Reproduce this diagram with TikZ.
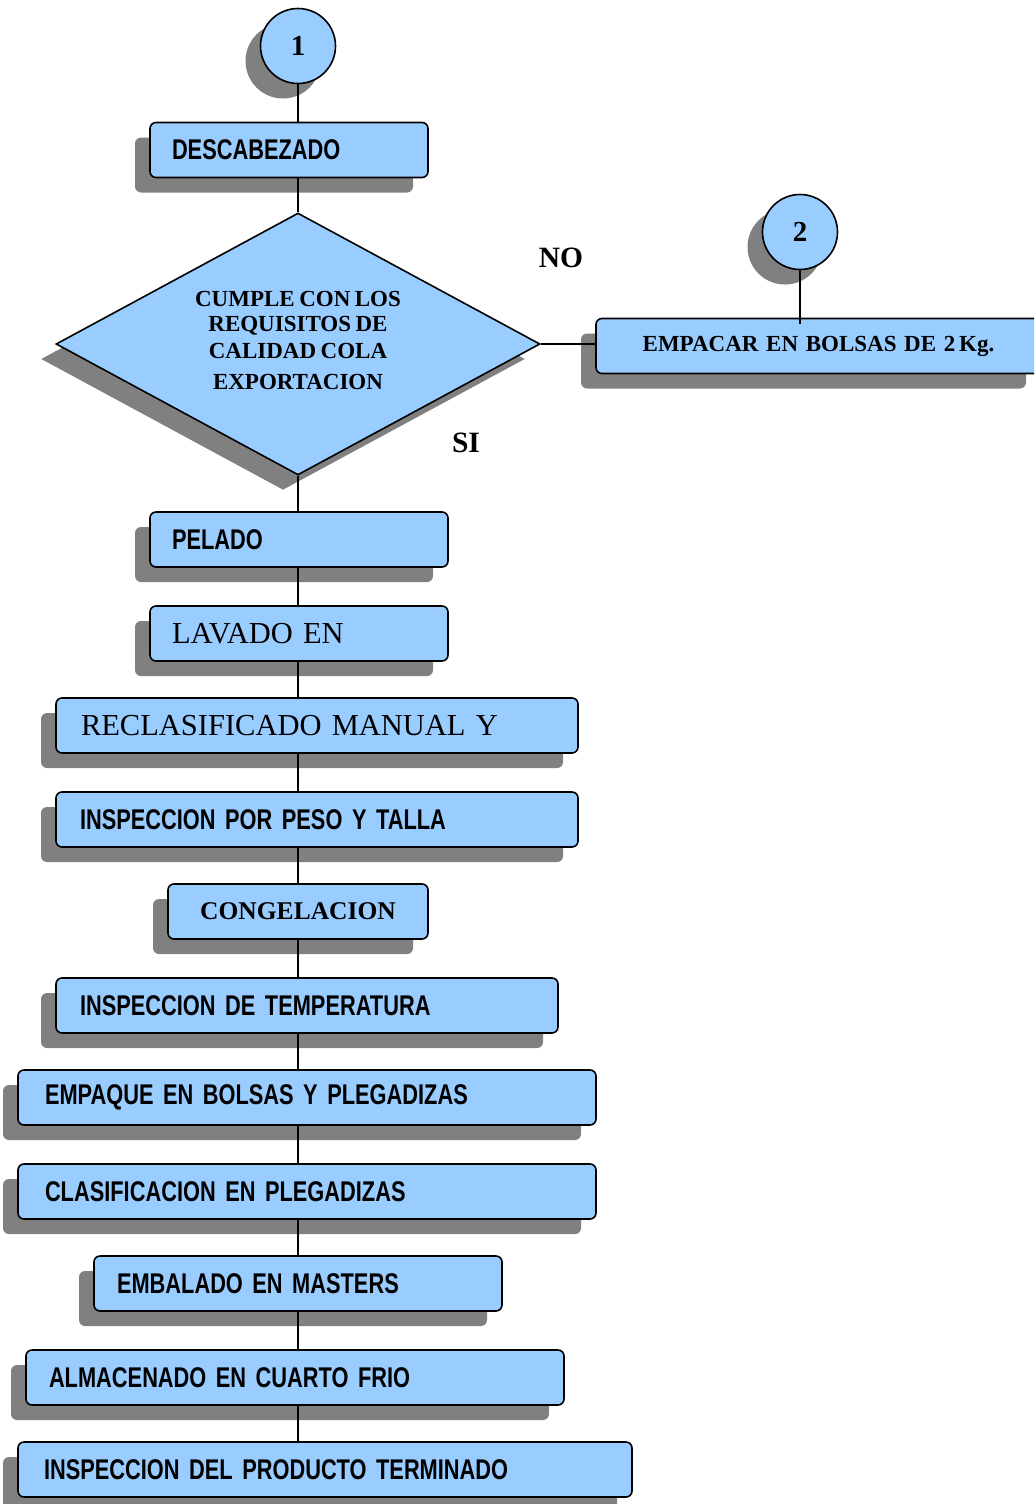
\documentclass[tikz,border=0pt]{standalone}
\usepackage{fontspec}
\setmainfont{Liberation Serif}
\newfontfamily\narrowsans[FakeStretch=0.765]{Liberation Sans}
\usetikzlibrary{shapes.geometric,shadows,calc}
\definecolor{boxblue}{RGB}{153,204,255}
\definecolor{shade}{RGB}{128,128,128}
% narrower interword spaces for the box labels
\newcommand\sansspacing{\spaceskip=4.2pt plus 1pt\relax}
\newcommand\serifspacing{\spaceskip=4.5pt plus 1pt\relax}
\tikzset{
  shaded/.style={general shadow={shadow xshift=-15pt,shadow yshift=-15pt,fill=shade}},
  basebox/.style={shaded, draw=black, line width=1.6pt, fill=boxblue,
    rounded corners=6pt, minimum height=55pt, inner ysep=0pt},
  proc/.style={basebox, align=left,
    font=\narrowsans\bfseries\fontsize{28.5}{32}\selectfont\sansspacing},
  procserif/.style={basebox, align=left, font=\fontsize{30.5}{34}\selectfont},
  procbold/.style={basebox, align=center, inner xsep=10pt},
  decision/.style={shaded, diamond, draw=black, line width=1.6pt, fill=boxblue,
    shape aspect=1.85, minimum width=484pt, minimum height=262pt, inner sep=0pt,
    align=center, font=\bfseries\fontsize{23}{26}\selectfont\serifspacing},
  connector/.style={shaded, circle, draw=black, line width=1.6pt, fill=boxblue,
    minimum size=75pt, inner sep=0pt, font=\bfseries\fontsize{29}{29}\selectfont},
  answer/.style={font=\bfseries\fontsize{29.5}{30}\selectfont, inner sep=0pt},
  link/.style={line width=1.6pt}
}
\begin{document}
\begin{tikzpicture}[x=1pt,y=-1pt]
\useasboundingbox (0,0) rectangle (1034,1504);
\clip (0,0) rectangle (1034,1504);

% off-page connectors
\node[connector] (c1) at (298,46) {1};
\node[connector] (c2) at (800,232) {2};

% main process column
\node[proc, text width=234pt, inner xsep=22pt] (desc) at (289,150) {DESCABEZADO};
\node[decision] (q) at (298,344) {CUMPLE CON LOS\\[-1pt] REQUISITOS DE\\[1pt] CALIDAD COLA\\[5pt] EXPORTACION\\[-18pt]};
\node[procbold, text width=425pt, font=\bfseries\fontsize{23}{26}\selectfont] (emp) at (818.5,346) {EMPACAR EN BOLSAS DE 2\,Kg.};
\node[proc, text width=254pt, inner xsep=22pt] (pel) at (299,539.5) {PELADO};
\node[procserif, text width=254pt, inner xsep=22pt] (lav) at (299,633.5) {LAVADO EN};
\node[procserif, text width=472pt, inner xsep=25pt] (recl) at (317,725.5) {RECLASIFICADO MANUAL Y};
\node[proc, text width=474pt, inner xsep=24pt] (peso) at (317,819.5) {INSPECCION POR PESO Y TALLA};
\node[procbold, text width=240pt, font=\bfseries\fontsize{25.5}{28}\selectfont] (cong) at (298,911.5) {CONGELACION};
\node[proc, text width=454pt, inner xsep=24pt] (temp) at (307,1005.5) {INSPECCION DE TEMPERATURA};
\node[proc, text width=524pt, inner xsep=27pt] (empq) at (307,1097.5) {EMPAQUE EN BOLSAS Y PLEGADIZAS};
\node[proc, text width=524pt, inner xsep=27pt] (clas) at (307,1191.5) {CLASIFICACION EN PLEGADIZAS};
\node[proc, text width=362pt, inner xsep=23pt] (emba) at (298,1283.5) {EMBALADO EN MASTERS};
\node[proc, text width=492pt, inner xsep=23pt] (alma) at (295,1377.5) {ALMACENADO EN CUARTO FRIO};
\node[proc, text width=562pt, inner xsep=26pt] (prod) at (325,1469.5) {INSPECCION DEL PRODUCTO TERMINADO};

% branch labels
\node[answer] (no) at (561,258) {NO};
\node[answer] (si) at (466,443) {SI};

% connectors along the spine
\draw[link] (c1.south) -- (c1 |- desc.north);
\draw[link] (q |- desc.south) -- (q.north);
\draw[link] (q.south) -- (q |- pel.north);
\draw[link] (q |- pel.south) -- (q |- lav.north);
\draw[link] (q |- lav.south) -- (q |- recl.north);
\draw[link] (q |- recl.south) -- (q |- peso.north);
\draw[link] (q |- peso.south) -- (q |- cong.north);
\draw[link] (q |- cong.south) -- (q |- temp.north);
\draw[link] (q |- temp.south) -- (q |- empq.north);
\draw[link] (q |- empq.south) -- (q |- clas.north);
\draw[link] (q |- clas.south) -- (q |- emba.north);
\draw[link] (q |- emba.south) -- (q |- alma.north);
\draw[link] (q |- alma.south) -- (q |- prod.north);

% rejected branch
\draw[link] (q.east) -- (q.east -| emp.west);
\draw[link] (c2.south) -- ($(c2 |- emp.north)+(0,6)$);
\end{tikzpicture}
\end{document}
